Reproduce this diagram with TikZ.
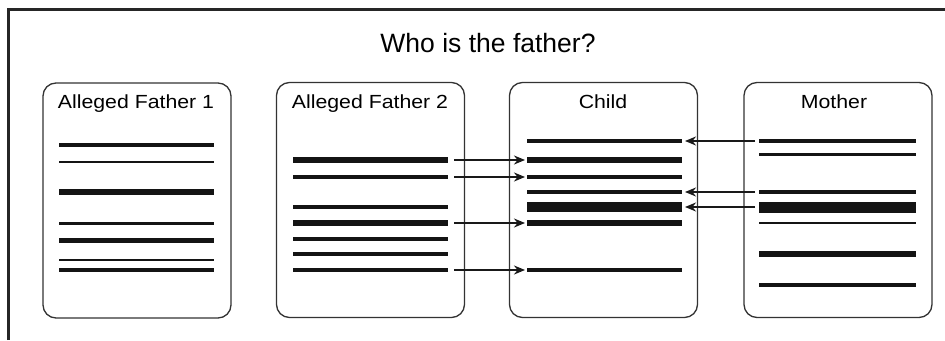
\documentclass[tikz,border=0pt]{standalone}
\usepackage{fontspec}
\setmainfont{Liberation Sans}
\usetikzlibrary{arrows.meta}
\begin{document}
\begin{tikzpicture}[x=1pt,y=-1pt,
  panel/.style={draw=black!80, line width=1.3pt, rounded corners=13pt, inner sep=0pt,
                minimum width=188pt, minimum height=235pt},
  band/.style={fill=black!92, draw=none, inner sep=0pt, outer sep=0pt,
               minimum width=155pt, minimum height=#1},
  plabel/.style={anchor=base, font=\fontsize{19}{22}\selectfont},
  arr/.style={line width=2pt, black!90, -{Stealth[length=11pt,width=9pt]}}]
\useasboundingbox (0,0) rectangle (945,340);
% outer frame
\draw[line width=2.5pt, black!85] (8.5,340) -- (8.5,9.5) -- (945,9.5);
% title
\node[anchor=base, font=\fontsize{26.5}{30}\selectfont] (title) at (488,52) {Who is the father?};
% panels
\node[panel] (p1) at (137,200.5) {};
\node[panel] (p2) at (370.5,200) {};
\node[panel] (p3) at (603.5,200) {};
\node[panel] (p4) at (838,200) {};
% labels
\node[plabel] (l1) at (136,108) {\scalebox{1.12}[1]{Alleged Father 1}};
\node[plabel] (l2) at (370,108) {\scalebox{1.12}[1]{Alleged Father 2}};
\node[plabel] (l3) at (603,108) {\scalebox{1.12}[1]{Child}};
\node[plabel] (l4) at (834,108) {\scalebox{1.12}[1]{Mother}};
% Alleged Father 1 bands
\node[band=3.3pt] (a1) at (136.5,145) {};
\node[band=2.3pt] (a2) at (136.5,162) {};
\node[band=6.7pt] (a3) at (136.5,192) {};
\node[band=3pt]   (a4) at (136.5,223) {};
\node[band=5pt]   (a5) at (136.5,240) {};
\node[band=2.3pt] (a6) at (136.5,260) {};
\node[band=3.7pt] (a7) at (136.5,270) {};
% Alleged Father 2 bands
\node[band=6pt]   (b1) at (370.5,160) {};
\node[band=3.3pt] (b2) at (370.5,177) {};
\node[band=4.7pt] (b3) at (370.5,207) {};
\node[band=5.7pt] (b4) at (370.5,223) {};
\node[band=3.7pt] (b5) at (370.5,239) {};
\node[band=3.3pt] (b6) at (370.5,254) {};
\node[band=4pt]   (b7) at (370.5,270) {};
% Child bands
\node[band=4.7pt]  (c1) at (604.5,141) {};
\node[band=5.7pt]  (c2) at (604.5,160) {};
\node[band=3.3pt]  (c3) at (604.5,177) {};
\node[band=3.7pt]  (c4) at (604.5,192) {};
\node[band=10.7pt] (c5) at (604.5,207) {};
\node[band=5.7pt]  (c6) at (604.5,223) {};
\node[band=3.7pt]  (c7) at (604.5,270) {};
% Mother bands
\node[band=4.7pt, minimum width=157pt] (m1) at (837.5,141) {};
\node[band=3pt,   minimum width=157pt] (m2) at (837.5,154) {};
\node[band=3.7pt, minimum width=157pt] (m3) at (837.5,192) {};
\node[band=11pt,  minimum width=157pt] (m4) at (837.5,207) {};
\node[band=2.7pt, minimum width=157pt] (m5) at (837.5,223) {};
\node[band=5.7pt, minimum width=157pt] (m6) at (837.5,254) {};
\node[band=3.7pt, minimum width=157pt] (m7) at (837.5,285) {};
% arrows from alleged father 2 to child
\draw[arr, shorten <=6pt, shorten >=2pt] (b1.east) -- (c2.west);
\draw[arr, shorten <=6pt, shorten >=2pt] (b2.east) -- (c3.west);
\draw[arr, shorten <=6pt, shorten >=2pt] (b4.east) -- (c6.west);
\draw[arr, shorten <=6pt, shorten >=2pt] (b7.east) -- (c7.west);
% arrows from mother to child
\draw[arr, shorten <=4pt, shorten >=3pt] (m1.west) -- (c1.east);
\draw[arr, shorten <=4pt, shorten >=3pt] (m3.west) -- (c4.east);
\draw[arr, shorten <=4pt, shorten >=3pt] (m4.west) -- (c5.east);
\end{tikzpicture}
\end{document}
